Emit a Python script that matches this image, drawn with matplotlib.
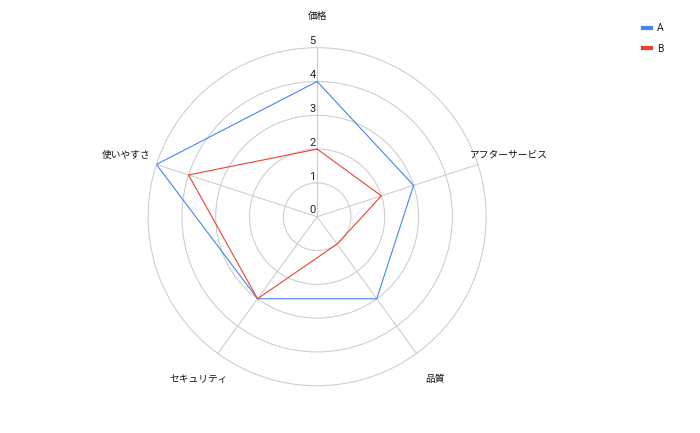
import numpy as np
from matplotlib import pyplot as plt
from matplotlib.lines import Line2D

plt.rcParams['font.family'] = ['Roboto', 'Noto Sans CJK JP', 'DejaVu Sans']

# data
categories = ["価格", "アフターサービス", "品質", "セキュリティ", "使いやすさ"]
series_a = [4, 3, 3, 3, 5]
series_b = [2, 2, 1, 3, 4]
ring_values = [0, 1, 2, 3, 4, 5]

color_a = "#4285f4"
color_b = "#ea4335"
grid_color = "#cccccc"

n = len(categories)
theta = np.linspace(0, 2 * np.pi, n, endpoint=False)

fig = plt.figure(figsize=(7, 4.33), dpi=100)
ax = fig.add_axes([0.2116, 0.109, 0.4829, 0.781], projection="polar")
ax.set_theta_zero_location("N")
ax.set_theta_direction(-1)
ax.set_ylim(0, 5)

ax.set_rgrids(ring_values[1:], labels=[""] * (len(ring_values) - 1))
ax.set_thetagrids(np.degrees(theta), labels=[""] * n)
ax.grid(True, color=grid_color, linewidth=0.75)
for gl in ax.yaxis.get_gridlines() + ax.xaxis.get_gridlines():
    gl.set_clip_on(False)
ax.spines["polar"].set_visible(False)

# closed polygons
th = np.append(theta, theta[0])
ax.plot(th, series_a + series_a[:1], color=color_a, linewidth=0.8)
ax.plot(th, series_b + series_b[:1], color=color_b, linewidth=0.8)

# ring value labels
for v in ring_values:
    ax.annotate(str(v), xy=(0, v), xytext=(-1, 1), textcoords="offset points",
                ha="right", va="bottom", fontsize=8, color="#222222",
                annotation_clip=False)

# category labels
for t, name in zip(theta, categories):
    ax.text(t, 5.95, name, ha="center", va="center", fontsize=7,
            color="#111111", clip_on=False)

handles = [Line2D([], [], color=color_a, linewidth=3),
           Line2D([], [], color=color_b, linewidth=3)]
fig.legend(handles, ["A", "B"], loc="upper left",
           bbox_to_anchor=(0.905, 0.968), frameon=False, fontsize=7.5,
           handlelength=0.75, handletextpad=0.6, labelspacing=1.0,
           labelcolor="#222222")

fig.savefig("out.png", dpi=100)
